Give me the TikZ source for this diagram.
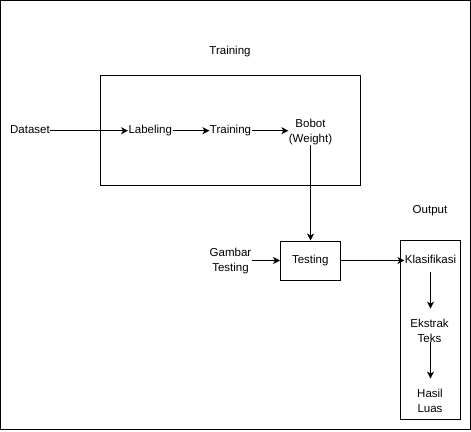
\documentclass[tikz,border=0pt]{standalone}
\usepackage{fontspec}
\setmainfont{Liberation Sans}
\usetikzlibrary{positioning,fit,calc,arrows.meta}
\tikzstyle{block} = [draw, rectangle, minimum height=39pt, minimum width=59.5pt, text centered]
\tikzstyle{group} = [draw, rectangle, inner sep=0pt]
\tikzstyle{txt}   = [inner sep=0pt, text height=8.3pt, text depth=2.6pt]
\tikzstyle{txtml} = [inner sep=0pt, align=center]
\tikzstyle{arrow} = [->, >={Stealth[length=7pt,width=7pt,inset=2pt]}]

\begin{document}
\begin{tikzpicture}[x=1pt, y=-1pt, line width=1pt, font=\fontsize{11.5}{15}\selectfont]

    \useasboundingbox (0,0) rectangle (471,431);
    \draw (0.5,0.5) rectangle (470.5,429.5);

    % training part
    \node[group, minimum width=260pt, minimum height=109.5pt] (trainbox) at (230.5,130.25) {};
    \node[txt] (traintitle) at (230,51.5) {Training};
    \node[txt  ] (dataset)  at (30,130.7)  {Dataset};
    \node[txt  ] (labeling) at (150.3,130.7) {Labeling};
    \node[txt  ] (training) at (230.5,130.7) {Training};
    \node[txtml] (bobot)    at (310.5,131.7) {Bobot\\(Weight)};

    % testing part
    \node[block] (testing) at (310.25,260.5) {Testing};
    \node[txtml] (gambar)  at (230.5,260.8) {Gambar\\Testing};

    % output part
    \node[group, minimum width=59.5pt, minimum height=179pt] (outbox) at (430.25,330) {};
    \node[txt  ] (outtitle)    at (430,210.7) {Output};
    \node[txt  ] (klasifikasi) at (430.5,260.5) {Klasifikasi};
    \node[txtml] (ekstrak)     at (429.5,330.8) {Ekstrak\\Teks};
    \node[txtml] (hasil)       at (430,400.8) {Hasil\\Luas};

    \draw[arrow] (dataset)  -- (labeling);
    \draw[arrow] (labeling) -- (training);
    \draw[arrow] (training) -- (bobot.west |- training);
    \draw[arrow] (bobot.south) -- (bobot.south |- testing.north);
    \draw[arrow] (gambar.east |- testing) -- (testing.west);
    \draw[arrow] (testing.east) -- (klasifikasi.west |- testing);
    \draw[arrow, shorten <=5.5pt, shorten >=10pt] (klasifikasi.south) -- (klasifikasi.south |- ekstrak.north);
    \draw[arrow, shorten <=-1.5pt, shorten >=10pt] (klasifikasi.south |- ekstrak.south) -- (klasifikasi.south |- hasil.north);

\end{tikzpicture}
\end{document}
